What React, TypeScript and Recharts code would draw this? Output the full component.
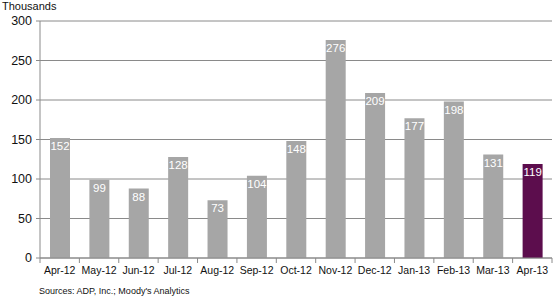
import { BarChart, Bar, XAxis, YAxis, CartesianGrid, LabelList, Cell } from 'recharts'

const months = ['Apr-12', 'May-12', 'Jun-12', 'Jul-12', 'Aug-12', 'Sep-12', 'Oct-12', 'Nov-12', 'Dec-12', 'Jan-13', 'Feb-13', 'Mar-13', 'Apr-13']
const jobs = [152, 99, 88, 128, 73, 104, 148, 276, 209, 177, 198, 131, 119]
const yTicks = [0, 50, 100, 150, 200, 250, 300]

const data = months.map((m, i) => ({ month: m, jobs: jobs[i] }))

const GRAY = '#a6a6a6'
const PURPLE = '#5c0d4d'
const LINE = '#8a8a8a'

// Excel-style ticks sit between categories, label in the middle
function MonthTick(props: any) {
  const { x, y, payload, index } = props
  const half = payload.offset || 0
  return (
    <g>
      <line x1={x - half} y1={y} x2={x - half} y2={y + 5} stroke={LINE} />
      {index === months.length - 1 && (
        <line x1={x + half} y1={y} x2={x + half} y2={y + 5} stroke={LINE} />
      )}
      <text x={x} y={y + 16} textAnchor="middle" fontSize={10.5} fill="#111">
        {payload.value}
      </text>
    </g>
  )
}

export default function App() {
  return (
    <div style={{ position: 'absolute', left: 0, top: 0, width: 560, height: 300, background: '#fff', fontFamily: 'Arial, "Liberation Sans", sans-serif' }}>
      <div style={{ position: 'absolute', left: 2, top: 0, fontSize: 11, color: '#111' }}>Thousands</div>
      <BarChart
        width={560}
        height={300}
        data={data}
        margin={{ top: 21, right: 8, left: 0, bottom: 20 }}
      >
        <CartesianGrid vertical={false} stroke={LINE} />
        <XAxis
          dataKey="month"
          stroke={LINE}
          tickLine={false}
          tickSize={0}
          tickMargin={0}
          height={22}
          interval={0}
          tick={<MonthTick />}
        />
        <YAxis
          domain={[0, 300]}
          ticks={yTicks}
          width={40}
          stroke={LINE}
          tickSize={4}
          tickMargin={4}
          tick={{ fill: '#111', fontSize: 12.5 }}
        />
        <YAxis yAxisId="border" orientation="right" width={0} tick={false} stroke={LINE} />
        <Bar dataKey="jobs" isAnimationActive={false} barSize={20}>
          {data.map((d, i) => (
            <Cell key={d.month} fill={i === data.length - 1 ? PURPLE : GRAY} />
          ))}
          <LabelList dataKey="jobs" position="insideTop" offset={4} fill="#fff" fontSize={11.5} />
        </Bar>
      </BarChart>
      <div style={{ position: 'absolute', left: 39, top: 286, fontSize: 9, color: '#111' }}>
        Sources: ADP, Inc.; Moody's Analytics
      </div>
    </div>
  )
}
